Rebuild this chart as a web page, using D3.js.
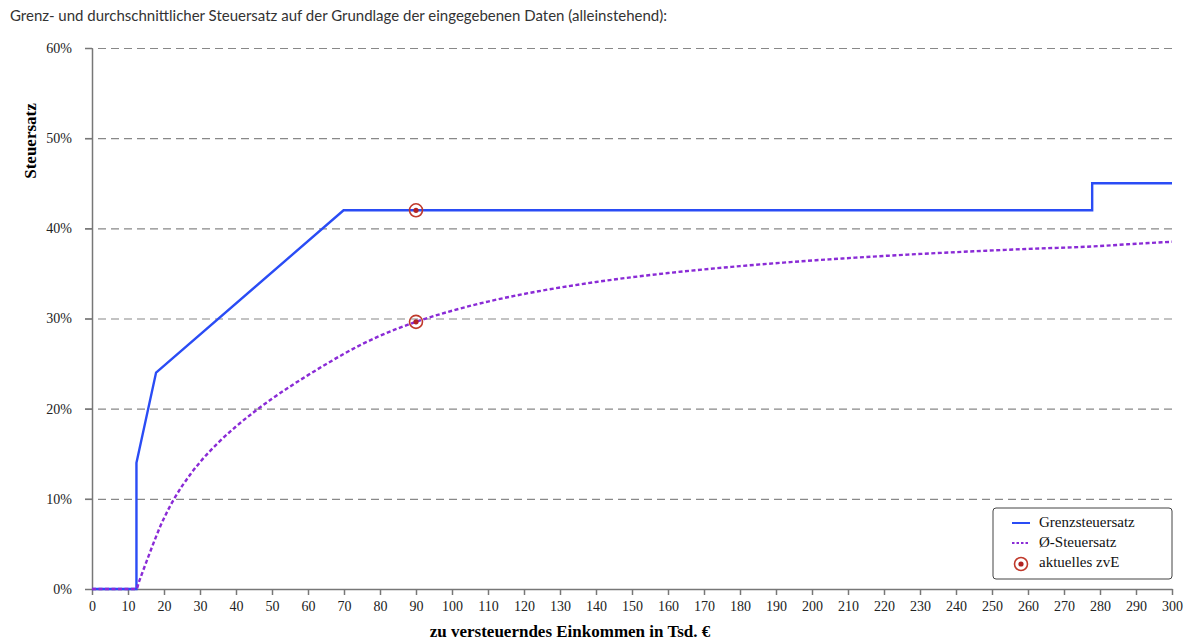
<!DOCTYPE html>
<html>
<head>
<meta charset="utf-8">
<script src="https://cdn.jsdelivr.net/npm/d3@7"></script>
<style>
  body { margin: 0; background: #fff; }
</style>
</head>
<body>
<svg id="chart" width="1200" height="644"></svg>
<script>
// marginal tax rate (Grenzsteuersatz), income in Tsd. €, rate in %
var grenzIncome = [0, 12.348, 12.348, 17.799, 69.879, 277.826, 277.826, 300];
var grenzRate   = [0, 0, 14, 24, 42, 42, 45, 45];

// average tax rate (Ø-Steuersatz)
var avgIncome = [0, 12.348, 13, 14, 15, 16, 17, 17.8, 19, 20, 22.5, 25, 27.5, 30, 35, 40, 45, 50, 55, 60, 65, 69.879,
                 75, 80, 90, 100, 110, 120, 140, 160, 180, 200, 220, 240, 260, 277.8, 290, 300];
var avgRate   = [0, 0, 0.73, 1.83, 2.90, 3.96, 5.00, 5.81, 6.98, 7.85, 9.78, 11.40, 12.81, 14.06, 16.20, 18.02, 19.63, 21.10, 22.45, 23.72, 24.93, 26.06,
                 27.15, 28.08, 29.63, 30.86, 31.88, 32.72, 34.05, 35.04, 35.81, 36.43, 36.94, 37.36, 37.72, 37.99, 38.29, 38.51];

// current zvE markers
var currentIncome = [90, 90];
var currentRate = [42, 29.63];

var xTicks = d3.range(0, 301, 10);
var yTicks = [0, 10, 20, 30, 40, 50, 60];
var legendLabels = ["Grenzsteuersatz", "Ø-Steuersatz", "aktuelles zvE"];

var serif = "'Liberation Serif', 'Times New Roman', serif";

var margin = {top: 48, right: 28, bottom: 55, left: 92},
    width = 1200 - margin.left - margin.right,
    height = 644 - margin.top - margin.bottom;

var root = d3.select("#chart");

root.append("text")
  .attr("x", 10).attr("y", 21)
  .style("font-family", "Lato, 'Open Sans', sans-serif")
  .style("font-size", "15px")
  .style("fill", "#333")
  .text("Grenz- und durchschnittlicher Steuersatz auf der Grundlage der eingegebenen Daten (alleinstehend):");

var svg = root.append("g")
  .attr("transform", "translate(" + margin.left + "," + margin.top + ")");

var x = d3.scaleLinear().domain([0, 300]).range([0, width]);
var y = d3.scaleLinear().domain([0, 60]).range([height, 0]);

// dashed grid lines
var grid = svg.append("g")
  .call(d3.axisLeft(y).tickValues(yTicks.slice(1)).tickFormat(""));
grid.select(".domain").remove();
grid.selectAll("line")
  .attr("x1", -7).attr("x2", width)
  .attr("stroke", "#888").attr("stroke-width", 1.2).attr("stroke-dasharray", "8,5");

// Y axis
var yAx = svg.append("g")
  .call(d3.axisLeft(y).tickValues(yTicks).tickSize(7).tickSizeOuter(0).tickPadding(13).tickFormat(function(d){ return d + "%"; }));

// X axis
var xAx = svg.append("g")
  .attr("transform", "translate(0," + height + ")")
  .call(d3.axisBottom(x).tickValues(xTicks).tickSize(6).tickSizeOuter(0).tickPadding(6));

[yAx, xAx].forEach(function(ax){
  ax.selectAll("path, line").attr("stroke", "#777").attr("stroke-width", 1.5);
  ax.selectAll("text")
    .style("font-family", serif)
    .style("font-size", "14px")
    .attr("fill", "#222");
});

// axis titles
svg.append("text")
  .attr("transform", "translate(" + (-56) + "," + 93 + ") rotate(-90)")
  .attr("text-anchor", "middle")
  .style("font-family", serif).style("font-size", "17px").style("font-weight", "bold")
  .text("Steuersatz");

svg.append("text")
  .attr("x", 478).attr("y", height + 48)
  .attr("text-anchor", "middle")
  .style("font-family", serif).style("font-size", "17px").style("font-weight", "bold")
  .text("zu versteuerndes Einkommen in Tsd. €");

// lines
var grenz = grenzIncome.map(function(d, i){ return [d, grenzRate[i]]; });
var avg = avgIncome.map(function(d, i){ return [d, avgRate[i]]; });

var line = d3.line().x(function(d){ return x(d[0]); }).y(function(d){ return y(d[1]); });

svg.append("path")
  .datum(grenz)
  .attr("fill", "none")
  .attr("stroke", "#2a4cf5")
  .attr("stroke-width", 2.4)
  .attr("d", line);

svg.append("path")
  .datum(avg)
  .attr("fill", "none")
  .attr("stroke", "#8a2bd6")
  .attr("stroke-width", 2.4)
  .attr("stroke-dasharray", "4,2.5")
  .attr("d", line.curve(d3.curveMonotoneX));

// current zvE markers
var marks = svg.selectAll(".mark")
  .data(currentIncome.map(function(d, i){ return [d, currentRate[i]]; }))
  .enter().append("g")
  .attr("transform", function(d){ return "translate(" + x(d[0]) + "," + y(d[1]) + ")"; });
marks.append("circle").attr("r", 6.5).attr("fill", "none").attr("stroke", "#c0392b").attr("stroke-width", 1.6);
marks.append("circle").attr("r", 2.6).attr("fill", "#b22222");

// legend
var lg = svg.append("g")
  .attr("transform", "translate(" + (x(250) + 1) + "," + (height - 81) + ")");
lg.append("rect")
  .attr("width", x(300) - x(250) - 1).attr("height", 71)
  .attr("rx", 3)
  .attr("fill", "#fff").attr("stroke", "#444").attr("stroke-width", 1);

legendLabels.forEach(function(t, i){
  var yy = 15 + i * 20;
  if (i === 0) {
    lg.append("line").attr("x1", 19).attr("x2", 37).attr("y1", yy).attr("y2", yy)
      .attr("stroke", "#2a4cf5").attr("stroke-width", 2);
  } else if (i === 1) {
    lg.append("line").attr("x1", 19).attr("x2", 37).attr("y1", yy).attr("y2", yy)
      .attr("stroke", "#8a2bd6").attr("stroke-width", 2).attr("stroke-dasharray", "2.5,2");
  } else {
    lg.append("circle").attr("cx", 28).attr("cy", yy + 1).attr("r", 6.5)
      .attr("fill", "none").attr("stroke", "#c0392b").attr("stroke-width", 1.6);
    lg.append("circle").attr("cx", 28).attr("cy", yy + 1).attr("r", 2.6).attr("fill", "#b22222");
  }
  lg.append("text").attr("x", 46).attr("y", yy + 4)
    .style("font-family", serif).style("font-size", "15px").attr("fill", "#111")
    .text(t);
});
</script>
</body>
</html>
